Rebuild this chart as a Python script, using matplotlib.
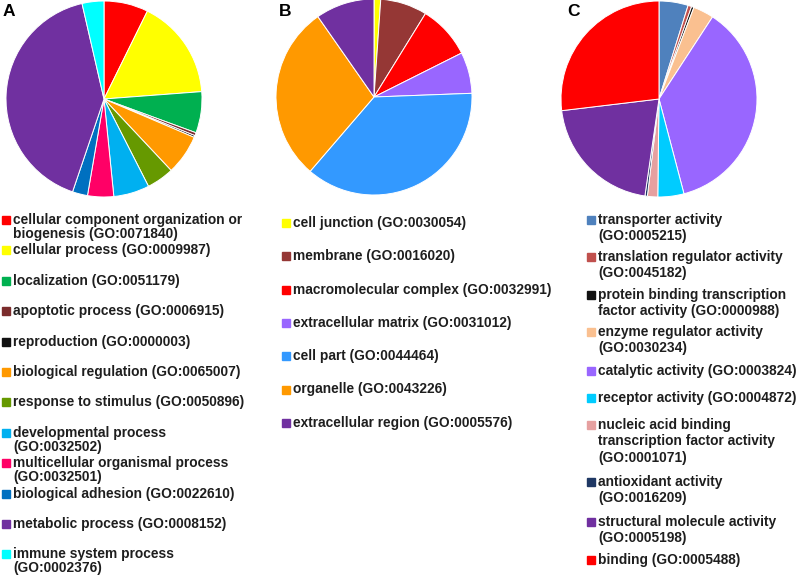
import matplotlib.pyplot as plt
from matplotlib.patches import Rectangle

plt.rcParams['font.family'] = ['Liberation Sans', 'DejaVu Sans']

# panel A - biological process
labels_a = [
    'cellular component organization or\nbiogenesis (GO:0071840)',
    'cellular process (GO:0009987)',
    'localization (GO:0051179)',
    'apoptotic process (GO:0006915)',
    'reproduction (GO:0000003)',
    'biological regulation (GO:0065007)',
    'response to stimulus (GO:0050896)',
    'developmental process\n(GO:0032502)',
    'multicellular organismal process\n(GO:0032501)',
    'biological adhesion (GO:0022610)',
    'metabolic process (GO:0008152)',
    'immune system process\n(GO:0002376)',
]
values_a = [7.3, 16.5, 6.8, 0.5, 0.3, 6.6, 4.5, 5.9, 4.3, 2.5, 41.2, 3.6]
colors_a = ['#ff0000', '#ffff00', '#00b050', '#7b2c2c', '#111111', '#ff9900',
            '#669900', '#00b0f0', '#ff0066', '#0070c0', '#7030a0', '#00ffff']

# panel B - cellular component
labels_b = [
    'cell junction (GO:0030054)',
    'membrane (GO:0016020)',
    'macromolecular complex (GO:0032991)',
    'extracellular matrix (GO:0031012)',
    'cell part (GO:0044464)',
    'organelle (GO:0043226)',
    'extracellular region (GO:0005576)',
]
values_b = [1.1, 7.7, 8.8, 6.8, 36.9, 29.0, 9.7]
colors_b = ['#ffff00', '#953735', '#ff0000', '#9966ff', '#3399ff', '#ff9900', '#7030a0']

# panel C - molecular function
labels_c = [
    'transporter activity\n(GO:0005215)',
    'translation regulator activity\n(GO:0045182)',
    'protein binding transcription\nfactor activity (GO:0000988)',
    'enzyme regulator activity\n(GO:0030234)',
    'catalytic activity (GO:0003824)',
    'receptor activity (GO:0004872)',
    'nucleic acid binding\ntranscription factor activity\n(GO:0001071)',
    'antioxidant activity\n(GO:0016209)',
    'structural molecule activity\n(GO:0005198)',
    'binding (GO:0005488)',
]
values_c = [4.8, 0.6, 0.4, 3.4, 36.7, 4.3, 1.7, 0.4, 20.8, 26.9]
colors_c = ['#4f81bd', '#c0504d', '#111111', '#fac090', '#9966ff', '#00ccff',
            '#e6a0a0', '#1f3864', '#7030a0', '#ff0000']

W, H = 800, 578
fig = plt.figure(figsize=(8, 5.78), dpi=100)


def px(x, y):
    return x / W, 1 - y / H


def draw_pie(cx, cy, r, values, colors):
    ax = fig.add_axes([(cx - r) / W, 1 - (cy + r) / H, 2 * r / W, 2 * r / H])
    ax.pie(values, colors=colors, startangle=90, counterclock=False,
           wedgeprops=dict(edgecolor='white', linewidth=0.7))
    ax.set_xlim(-1, 1)
    ax.set_ylim(-1, 1)
    ax.axis('off')


def draw_legend(x, ys, labels, colors, linespacing):
    for y, lab, col in zip(ys, labels, colors):
        fig.patches.append(Rectangle(px(x, y + 4), 8 / W, 8 / H, color=col,
                                     transform=fig.transFigure, figure=fig))
        fx, fy = px(x + 11, y - 7)
        fig.text(fx, fy, lab, fontsize=9.9, fontweight='bold', color='#1e1e1e',
                 va='top', ha='left', linespacing=linespacing)


draw_pie(104, 99, 98, values_a, colors_a)
draw_pie(374, 97, 98, values_b, colors_b)
draw_pie(659, 99, 98, values_c, colors_c)

for letter, (lx, ly) in zip(['A', 'B', 'C'], [(3, 11), (279, 11), (567, 11)]):
    fx, fy = px(lx, ly)
    fig.text(fx, fy, letter, fontsize=12.5, fontweight='bold', va='center', ha='left')

ys_a = [220 + 30.4 * i for i in range(len(labels_a))]
ys_b = [223 + 33.3 * i for i in range(len(labels_b))]
ys_c = [220, 257, 295, 332, 371, 398, 425, 482, 522, 560]

draw_legend(2, ys_a, labels_a, colors_a, 1.0)
draw_legend(282, ys_b, labels_b, colors_b, 1.1)
draw_legend(587, ys_c, labels_c, colors_c, 1.22)

fig.savefig('out.png', dpi=100, facecolor='white')
